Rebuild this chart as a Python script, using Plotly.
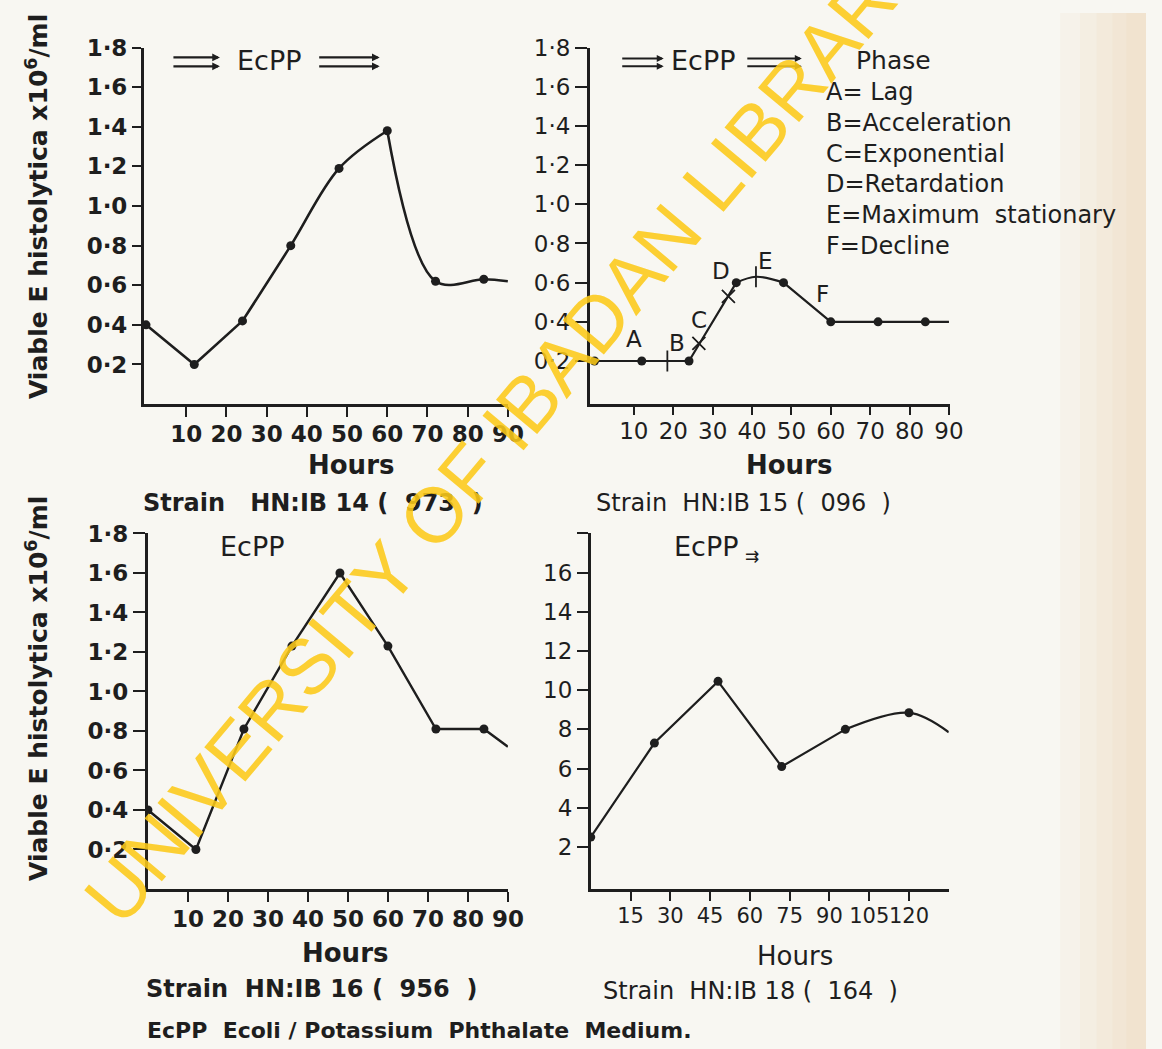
import plotly.graph_objects as go

W, H = 1162, 1049
INK = "#1e1e1e"
PAPER = "#f8f7f2"
FONT = "DejaVu Sans"

# ---------------- data ----------------
# Strain HN:IB 14 (973)
hours_14 = [0, 12, 24, 36, 48, 60, 72, 84]
viable_14 = [0.40, 0.20, 0.42, 0.80, 1.19, 1.38, 0.62, 0.63]
end_14 = [90, 0.62]

# Strain HN:IB 15 (096)
hours_15 = [0, 12, 24, 36, 48, 60, 72, 84]
viable_15 = [0.20, 0.20, 0.20, 0.60, 0.60, 0.40, 0.40, 0.40]
end_15 = [90, 0.40]
peak_15 = [41, 0.63]
# phase boundary marks on the curve
bound_tick_h = [18.5, 41]
bound_tick_v = [0.20, 0.63]
bound_cross_h = [26.5, 34]
bound_cross_v = [0.29, 0.53]
phase_letters = ["A", "B", "C", "D", "E", "F"]
phase_names = ["Lag", "Acceleration", "Exponential", "Retardation",
               "Maximum  stationary", "Decline"]

# Strain HN:IB 16 (956)
hours_16 = [0, 12, 24, 36, 48, 60, 72, 84]
viable_16 = [0.40, 0.20, 0.81, 1.23, 1.60, 1.23, 0.81, 0.81]
end_16 = [90, 0.72]

# Strain HN:IB 18 (164)
hours_18 = [0, 24, 48, 72, 96, 120]
viable_18 = [2.5, 7.3, 10.45, 6.1, 8.0, 8.85]
end_18 = [135, 7.85]

# tick labels
x_ticks_90 = [10, 20, 30, 40, 50, 60, 70, 80, 90]
x_ticks_135 = [15, 30, 45, 60, 75, 90, 105, 120]
y_ticks_frac = [0.2, 0.4, 0.6, 0.8, 1.0, 1.2, 1.4, 1.6, 1.8]
y_text_frac = ["0·2", "0·4", "0·6", "0·8", "1·0", "1·2", "1·4", "1·6", "1·8"]
y_ticks_18 = [2, 4, 6, 8, 10, 12, 14, 16, 18]
y_text_18 = ["2", "4", "6", "8", "10", "12", "14", "16", ""]


def px(x):
    return x / W


def py(y):
    return 1 - y / H


fig = go.Figure()


def line(xs, ys, ax, shape="linear", width=2.5):
    fig.add_trace(go.Scatter(
        x=xs, y=ys, mode="lines", xaxis=ax[0], yaxis=ax[1],
        line=dict(color=INK, width=width, shape=shape, smoothing=1.0),
        hoverinfo="skip", showlegend=False))


def dots(xs, ys, ax, size=9):
    fig.add_trace(go.Scatter(
        x=xs, y=ys, mode="markers", xaxis=ax[0], yaxis=ax[1],
        marker=dict(color=INK, size=size), showlegend=False))


A1, A2, A3, A4 = ("x", "y"), ("x2", "y2"), ("x3", "y3"), ("x4", "y4")

# panel 1: straight fall to the minimum, then a smooth growth curve
line(hours_14[:3], viable_14[:3], A1, width=2.6)
line(hours_14[2:6], viable_14[2:6], A1, "spline", 2.6)
line(hours_14[5:] + [end_14[0]], viable_14[5:] + [end_14[1]], A1, "spline", 2.6)
dots(hours_14, viable_14, A1)

# panel 2: phases of growth
line(hours_15[:4], viable_15[:4], A2, width=2.2)
line([hours_15[3], peak_15[0], hours_15[4]],
     [viable_15[3], peak_15[1], viable_15[4]], A2, "spline", 2.2)
line(hours_15[4:] + [end_15[0]], viable_15[4:] + [end_15[1]], A2, width=2.2)
dots(hours_15, viable_15, A2, 9)
fig.add_trace(go.Scatter(
    x=bound_tick_h, y=bound_tick_v, mode="markers", xaxis="x2", yaxis="y2",
    marker=dict(symbol="line-ns", size=15, line=dict(color=INK, width=1.8)),
    showlegend=False))
fig.add_trace(go.Scatter(
    x=bound_cross_h, y=bound_cross_v, mode="markers", xaxis="x2", yaxis="y2",
    marker=dict(symbol="x-thin", size=13, line=dict(color=INK, width=1.8)),
    showlegend=False))

# panel 3
line(hours_16 + [end_16[0]], viable_16 + [end_16[1]], A3, width=2.4)
dots(hours_16, viable_16, A3)

# panel 4
line(hours_18[:5], viable_18[:5], A4, width=2.2)
line(hours_18[4:] + [end_18[0]], viable_18[4:] + [end_18[1]], A4, "spline", 2.2)
dots(hours_18, viable_18, A4)


def xaxis(domain, rng, tickvals, anchor, ticklen, weight, lw=3, size=23):
    return dict(domain=domain, range=rng, anchor=anchor,
                showline=True, linecolor=INK, linewidth=lw,
                ticks="outside", ticklen=ticklen, tickwidth=2.4, tickcolor=INK,
                tickvals=tickvals, ticktext=[str(v) for v in tickvals],
                tickangle=0, ticklabelstandoff=-3,
                tickfont=dict(family=FONT, size=size, color=INK, weight=weight),
                showgrid=False, zeroline=False, fixedrange=True)


def yaxis(domain, rng, tickvals, ticktext, anchor, ticklen, weight, lw=3):
    return dict(domain=domain, range=rng, anchor=anchor,
                showline=True, linecolor=INK, linewidth=lw,
                ticks="outside", ticklen=ticklen, tickwidth=2.4, tickcolor=INK,
                tickvals=tickvals, ticktext=ticktext,
                tickfont=dict(family=FONT, size=23, color=INK, weight=weight),
                showgrid=False, zeroline=False, fixedrange=True)


top = [py(396), py(35)]
bottom = [py(887), py(527)]

fig.update_layout(
    width=W, height=H, autosize=False,
    margin=dict(l=0, r=0, t=0, b=0),
    paper_bgcolor=PAPER, plot_bgcolor="rgba(0,0,0,0)",
    showlegend=False,
    xaxis=xaxis([px(146), px(515)], [-0.5, 90], x_ticks_90, "y", 10, "bold"),
    yaxis=yaxis(top, [0, 1.8], y_ticks_frac, y_text_frac, "x", 9, "bold"),
    xaxis2=xaxis([px(598), px(963)], [-1.2, 90.2], x_ticks_90, "y2", 8, "normal", 2.6),
    yaxis2=yaxis(top, [-0.02, 1.8], y_ticks_frac, y_text_frac, "x2", 12, "normal", 2.6),
    xaxis3=xaxis([px(150), px(515)], [0, 90], x_ticks_90, "y3", 10, "bold"),
    yaxis3=yaxis(bottom, [0, 1.8], y_ticks_frac, y_text_frac, "x3", 12, "bold"),
    xaxis4=xaxis([px(599), px(962)], [0, 135], x_ticks_135, "y4", 9, "normal", 2.6, 21),
    yaxis4=yaxis(bottom, [-0.15, 18], y_ticks_18, y_text_18, "x4", 11, "normal", 2.6),
)

ann = []


def note(text, x, y, size=24, weight="normal", xanchor="center", angle=0, color=INK,
         family=FONT):
    ann.append(dict(text=text, x=px(x), y=py(y), xref="paper", yref="paper",
                    showarrow=False, xanchor=xanchor, yanchor="middle",
                    textangle=angle,
                    font=dict(family=family, size=size, color=color, weight=weight)))


def double_arrow(x0, x1, y_a, y_b, width=2.0):
    for yy in (y_a, y_b):
        ann.append(dict(text="", x=px(x1), y=py(yy), xref="paper", yref="paper",
                        ax=x0 - x1, ay=0, showarrow=True, arrowhead=2,
                        arrowsize=0.7, arrowwidth=width, arrowcolor=INK,
                        standoff=0, startstandoff=0))


# axis titles
ytitle = "Viable E histolytica x10<sup>6</sup>/ml"
note(ytitle, 38, 196, 25, "bold", angle=-90)
note(ytitle, 38, 684, 25, "bold", angle=-90)
note("Hours", 356, 458, 26, "bold")
note("Hours", 800, 458, 26, "bold")
note("Hours", 350, 952, 26, "bold")
note("Hours", 806, 955, 26, "normal")

# strain captions
note("Strain   HN:IB 14 (  973  )", 143, 496, 24, "bold", "left")
note("Strain  HN:IB 15 (  096  )", 602, 496, 24, "normal", "left")
note("Strain  HN:IB 16 (  956  )", 146, 988, 24, "bold", "left")
note("Strain  HN:IB 18 (  164  )", 609, 990, 24, "normal", "left")
note("EcPP  Ecoli / Potassium  Phthalate  Medium.", 147, 1030, 22, "bold", "left")

# medium labels with flow arrows
double_arrow(175, 223, 45, 54, 2.2)
note("EcPP", 273, 48, 27)
double_arrow(323, 385, 45, 54, 2.2)

double_arrow(630, 673, 46, 54, 2.0)
note("EcPP", 713, 48, 27)
double_arrow(757, 813, 46, 54, 2.0)

note("EcPP", 256, 540, 27)
note("EcPP", 716, 540, 27)
note("⇉", 762, 550, 17)

# phase key
note("Phase", 906, 48, 25)
for i, (letter, name) in enumerate(zip(phase_letters, phase_names)):
    sep = "= " if i == 0 else "="
    note(f"{letter}{sep}{name}", 836, 80 + i * 31.2, 24, "normal", "left")

# phase letters beside the curve
letter_pos = [(10, 0.31), (21, 0.29), (26.5, 0.41), (32, 0.66), (43.5, 0.71), (58, 0.54)]
for letter, (hx, vy) in zip(phase_letters, letter_pos):
    ann.append(dict(text=letter, x=hx, y=vy, xref="x2", yref="y2", showarrow=False,
                    font=dict(family=FONT, size=23, color=INK)))

# library stamp across the sheet
note("UNIVERSITY OF IBADAN LIBRARY", 514, 420, 78, "normal", angle=-50,
     color="rgba(252,202,24,0.88)", family="Liberation Sans")

fig.update_layout(annotations=ann)

# aged paper tint along the right edge, fading in toward the border
tint = []
for i, x0 in enumerate([1075, 1095, 1112, 1128, 1142]):
    tint.append(dict(type="rect", xref="paper", yref="paper", x0=px(x0), x1=1,
                     y0=0, y1=1, fillcolor="rgba(230,205,150,0.09)",
                     line=dict(width=0), layer="below"))
fig.update_layout(shapes=tint)

fig.write_html("out.html")
